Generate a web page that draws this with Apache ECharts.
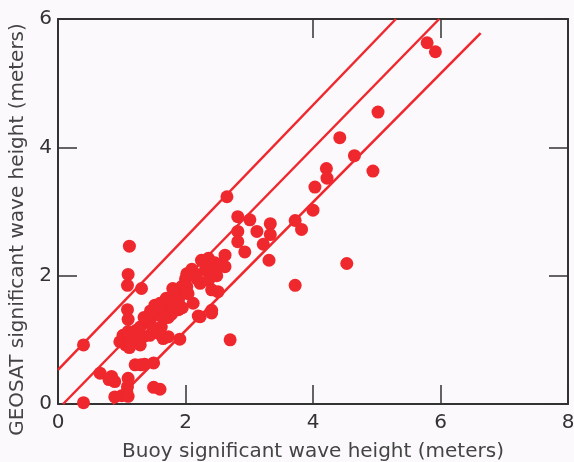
<!DOCTYPE html>
<html>
<head>
<meta charset="utf-8">
<script src="https://cdn.jsdelivr.net/npm/echarts@6/dist/echarts.min.js"></script>
<style>
html,body{margin:0;padding:0;background:#fcf9fc;}
#chart{width:574px;height:462px;}
</style>
</head>
<body>
<div id="chart"></div>
<script>
// Scatter data: buoy (x) vs GEOSAT (y) significant wave height, meters
const buoyX = [
  0.40,0.40,
  1.12,1.10,1.09,1.31,1.09,1.10,
  0.66,0.84,0.89,0.80,1.10,1.09,0.89,1.00,1.10,1.08,
  1.21,1.30,1.36,1.50,1.50,1.60,
  0.97,1.02,1.06,1.10,1.15,1.21,1.23,1.29,1.29,1.34,1.44,1.40,1.44,1.20,1.12,
  1.65,1.73,1.91,2.70,
  1.50,1.55,1.52,1.60,1.68,1.65,1.73,1.78,1.84,1.91,1.89,1.89,1.94,2.02,2.02,2.04,2.04,2.12,2.15,2.23,2.23,2.41,2.20,2.25,2.31,2.36,2.36,2.41,2.44,2.46,2.49,2.51,2.57,2.62,2.62,2.41,
  1.62,1.70,1.78,1.58,1.48,1.35,1.45,1.95,2.00,2.10,2.30,2.18,1.80,
  2.65,2.82,3.01,2.82,3.12,3.33,3.33,3.22,2.82,2.93,3.31,
  3.72,3.82,3.72,4.00,4.03,4.21,4.22,4.42,4.65,4.94,5.02,4.53,5.79,5.92
];
const geosatY = [
  0.92,0.02,
  2.46,2.02,1.85,1.80,1.47,1.32,
  0.48,0.43,0.35,0.38,0.40,0.27,0.11,0.13,0.12,0.19,
  0.61,0.61,0.62,0.64,0.26,0.23,
  0.97,1.07,0.92,1.13,1.00,0.97,1.15,1.20,0.92,1.05,1.07,1.28,1.28,1.05,0.88,
  1.02,1.05,1.01,1.00,
  1.38,1.41,1.54,1.57,1.46,1.33,1.35,1.57,1.75,1.70,1.62,1.47,1.83,2.03,1.83,1.72,2.01,1.57,2.03,1.88,1.36,1.42,1.37,2.24,2.09,2.27,1.93,1.78,2.09,2.20,2.00,1.75,2.19,2.32,2.14,1.46,
  1.20,1.65,1.40,1.10,1.20,1.35,1.45,1.50,1.95,2.10,2.20,1.95,1.80,
  3.23,2.92,2.87,2.69,2.69,2.81,2.64,2.49,2.53,2.37,2.24,
  2.86,2.72,1.85,3.02,3.38,3.67,3.52,4.15,3.87,3.63,4.55,2.19,5.63,5.49
];
// Reference lines (endpoints)
const upperLine = [[0, 0.53], [5.30, 6.0]];
const middleLine = [[0.08, 0], [5.98, 6.0]];
const lowerLine = [[0.86, 0], [6.63, 5.78]];
// Axis ranges / ticks
const xRange = [0, 8];
const yRange = [0, 6];
const tickStep = 2;
const xTickLabels = ['0', '2', '4', '6', '8'];
const topTicks = ['4', '6'];
const rightTicks = [2, 4];
const xTitle = 'Buoy significant wave height (meters)';
const yTitle = 'GEOSAT significant wave height (meters)';

const RED = '#ef282e';
const FRAME = '#333333';
const FONT = '"DejaVu Sans", "Liberation Sans", sans-serif';

const scatterData = buoyX.map((x, i) => [x, geosatY[i]]);

const chart = echarts.init(document.getElementById('chart'), null, {renderer: 'canvas'});
const lineSeries = (d) => ({
  type: 'line', data: d, symbol: 'none', silent: true, z: 2, xAxisIndex: 0, yAxisIndex: 0,
  lineStyle: {color: RED, width: 2.5}, animation: false
});
const frameLine = {show: true, onZero: false, lineStyle: {color: FRAME, width: 2}};
chart.setOption({
  backgroundColor: '#fcf9fc',
  animation: false,
  grid: {left: 58, right: 6, top: 19, bottom: 58, outerBoundsMode: 'none'},
  xAxis: [{
    type: 'value', min: xRange[0], max: xRange[1], interval: tickStep,
    position: 'bottom',
    axisLine: frameLine,
    axisTick: {show: true, inside: true, length: 19, lineStyle: {color: FRAME, width: 1.5}},
    axisLabel: {show: true, color: '#333', fontSize: 20, fontFamily: FONT, margin: 9},
    splitLine: {show: false},
    name: xTitle, nameLocation: 'middle', nameGap: 38,
    nameTextStyle: {color: '#444', fontSize: 20, fontFamily: FONT}
  }, {
    type: 'category', data: xTickLabels, boundaryGap: false,
    position: 'top',
    axisLine: frameLine,
    axisTick: {show: true, inside: true, length: 19,
      interval: (i, v) => topTicks.indexOf(v) >= 0,
      lineStyle: {color: FRAME, width: 1.5}},
    axisLabel: {show: false},
    splitLine: {show: false}
  }],
  yAxis: [{
    type: 'value', min: yRange[0], max: yRange[1], interval: tickStep,
    position: 'left',
    axisLine: frameLine,
    axisTick: {show: true, inside: true, length: 19, lineStyle: {color: FRAME, width: 1.5}},
    axisLabel: {show: true, color: '#333', fontSize: 20, fontFamily: FONT, margin: 6},
    splitLine: {show: false},
    name: yTitle, nameLocation: 'middle', nameGap: 30, nameRotate: 90,
    nameTextStyle: {color: '#444', fontSize: 20, fontFamily: FONT, padding: [0, 36, 0, 0]}
  }, {
    type: 'value', min: yRange[0], max: yRange[1], interval: tickStep,
    position: 'right',
    axisLine: frameLine,
    axisTick: {show: true, inside: true, length: 19, lineStyle: {color: FRAME, width: 1.5}},
    axisLabel: {show: false},
    splitLine: {show: false}
  }],
  series: [
    lineSeries(upperLine),
    lineSeries(middleLine),
    lineSeries(lowerLine),
    {
      type: 'scatter', data: scatterData, symbol: 'circle', symbolSize: 13, z: 3,
      xAxisIndex: 0, yAxisIndex: 0,
      itemStyle: {color: RED, opacity: 1}
    }
  ]
});
</script>
</body>
</html>
